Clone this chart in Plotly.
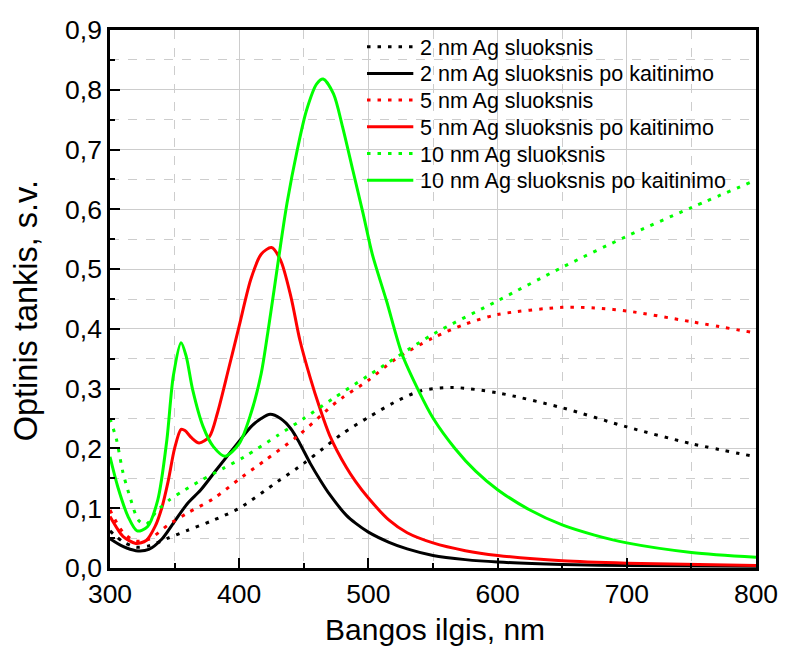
import plotly.graph_objects as go

# Absorbance spectra of Ag layers (as-deposited and after annealing)

# 2 nm Ag, as deposited
wl_2nm = [300, 310, 320, 330, 345, 360, 380, 400, 430, 450, 465, 480, 500, 520, 540, 565, 600, 650, 700, 750, 800]
od_2nm = [0.062, 0.044, 0.035, 0.037, 0.050, 0.063, 0.080, 0.100, 0.145, 0.175, 0.200, 0.225, 0.252, 0.277, 0.296, 0.302, 0.293, 0.268, 0.236, 0.208, 0.186]

# 2 nm Ag, annealed
wl_2nm_ann = [300, 310, 320, 330, 340, 350, 360, 370, 383, 400, 409, 417, 424, 432, 440, 447, 455, 463, 470, 483, 490, 500, 516, 530, 550, 575, 600, 650, 700, 800]
od_2nm_ann = [0.049, 0.036, 0.029, 0.031, 0.048, 0.078, 0.108, 0.130, 0.166, 0.212, 0.236, 0.250, 0.257, 0.250, 0.233, 0.208, 0.175, 0.146, 0.123, 0.088, 0.075, 0.060, 0.043, 0.032, 0.021, 0.014, 0.010, 0.006, 0.004, 0.003]

# 5 nm Ag, as deposited
wl_5nm = [300, 310, 320, 330, 345, 360, 380, 402, 420, 446, 471, 480, 500, 520, 550, 575, 600, 650, 675, 700, 750, 800]
od_5nm = [0.097, 0.060, 0.045, 0.048, 0.072, 0.092, 0.116, 0.152, 0.180, 0.222, 0.270, 0.285, 0.314, 0.348, 0.385, 0.408, 0.424, 0.436, 0.435, 0.430, 0.412, 0.393]

# 5 nm Ag, annealed
wl_5nm_ann = [300, 305, 310, 320, 328, 335, 340, 345, 350, 355, 358, 363, 369, 377, 383, 392, 400, 409, 417, 425, 432, 440, 447, 455, 462, 470, 483, 490, 500, 516, 530, 550, 575, 600, 650, 700, 800]
od_5nm_ann = [0.086, 0.068, 0.053, 0.041, 0.046, 0.070, 0.100, 0.145, 0.200, 0.232, 0.230, 0.218, 0.209, 0.220, 0.258, 0.335, 0.405, 0.483, 0.525, 0.536, 0.515, 0.454, 0.381, 0.318, 0.270, 0.222, 0.168, 0.145, 0.117, 0.080, 0.059, 0.042, 0.029, 0.021, 0.012, 0.008, 0.004]

# 10 nm Ag, as deposited
wl_10nm = [300, 305, 310, 316, 322, 328, 336, 346, 356, 370, 388, 404, 430, 450, 473, 500, 550, 600, 650, 700, 750, 800]
od_10nm = [0.250, 0.215, 0.160, 0.115, 0.080, 0.073, 0.095, 0.114, 0.128, 0.146, 0.167, 0.186, 0.222, 0.250, 0.284, 0.322, 0.391, 0.447, 0.503, 0.555, 0.603, 0.649]

# 10 nm Ag, annealed
wl_10nm_ann = [300, 306, 314, 321, 329, 337, 344, 349, 355, 359, 364, 372, 380, 389, 400, 409, 417, 422, 427, 432, 437, 445, 452, 460, 465, 473, 480, 488, 496, 503, 514, 526, 539, 550, 567, 583, 600, 625, 650, 675, 700, 750, 800]
od_10nm_ann = [0.186, 0.136, 0.086, 0.062, 0.069, 0.114, 0.214, 0.321, 0.377, 0.354, 0.298, 0.237, 0.203, 0.187, 0.208, 0.258, 0.325, 0.392, 0.465, 0.540, 0.610, 0.700, 0.765, 0.810, 0.818, 0.793, 0.738, 0.665, 0.592, 0.525, 0.447, 0.358, 0.296, 0.251, 0.200, 0.162, 0.131, 0.097, 0.072, 0.055, 0.042, 0.026, 0.018]

series = [
    ("2 nm Ag sluoksnis", wl_2nm, od_2nm, "#000000", True),
    ("2 nm Ag sluoksnis po kaitinimo", wl_2nm_ann, od_2nm_ann, "#000000", False),
    ("5 nm Ag sluoksnis", wl_5nm, od_5nm, "#ff0000", True),
    ("5 nm Ag sluoksnis po kaitinimo", wl_5nm_ann, od_5nm_ann, "#ff0000", False),
    ("10 nm Ag sluoksnis", wl_10nm, od_10nm, "#00ff00", True),
    ("10 nm Ag sluoksnis po kaitinimo", wl_10nm_ann, od_10nm_ann, "#00ff00", False),
]

DOT = "3.5px,7px"
LINE_W = 3

fig = go.Figure()
for name, x, y, color, dotted in series:
    fig.add_trace(go.Scatter(
        x=x, y=y, name=name, mode="lines", showlegend=False,
        line=dict(color=color, width=LINE_W, shape="spline", smoothing=0.8,
                  dash=DOT if dotted else "solid"),
    ))

grid_col = "#cdcdcd"
axis_common = dict(
    showline=True, linewidth=2.5, linecolor="black", mirror=True,
    ticks="inside", ticklen=10, tickwidth=2, tickcolor="black",
    showgrid=True, gridcolor=grid_col, gridwidth=1,
    zeroline=False,
    tickfont=dict(size=26.5, color="black"),
)

fig.update_xaxes(range=[300, 800], tick0=300, dtick=100,
                 minor=dict(dtick=50, ticks="inside", ticklen=5, tickwidth=2, tickcolor="black",
                            showgrid=True, gridcolor=grid_col, griddash="dash", gridwidth=1),
                 **axis_common)
fig.update_yaxes(range=[0, 0.9], tick0=0, dtick=0.1, tickformat=".1f",
                 minor=dict(dtick=0.05, ticks="inside", ticklen=5, tickwidth=2, tickcolor="black",
                            showgrid=True, gridcolor=grid_col, griddash="dash", gridwidth=1),
                 **axis_common)

# plot-area geometry in pixels, used to place the legend block
PL, PR, PT, PB = 110, 766, 30, 568


def px_x(px):
    return (px - PL) / (PR - PL)


def px_y(py):
    return (PB - py) / (PB - PT)


# legend: sample line + label per series
for i, (name, _, _, color, dotted) in enumerate(series):
    row_y = 46.7 + 26.7 * i
    fig.add_shape(type="line", xref="paper", yref="paper",
                  x0=px_x(371), x1=px_x(418), y0=px_y(row_y), y1=px_y(row_y),
                  line=dict(color=color, width=LINE_W, dash=DOT if dotted else "solid"))
    fig.add_annotation(text=name, xref="paper", yref="paper",
                       x=px_x(423), y=px_y(row_y + 1), xanchor="left", yanchor="middle",
                       showarrow=False, font=dict(size=21.5, color="black"))

fig.add_annotation(text="Bangos ilgis, nm", xref="paper", yref="paper",
                   x=px_x(440.5), y=px_y(629), xanchor="center", yanchor="middle",
                   showarrow=False, font=dict(size=30, color="black"))
fig.add_annotation(text="Optinis tankis, s.v.", xref="paper", yref="paper",
                   x=px_x(25), y=px_y(311), xanchor="center", yanchor="middle", textangle=-90,
                   showarrow=False, font=dict(size=32.5, color="black"))

fig.update_layout(
    width=790, height=646,
    margin=dict(l=PL, r=790 - PR, t=PT, b=646 - PB),
    plot_bgcolor="white", paper_bgcolor="white",
    separators=", ",
    font=dict(family="Liberation Sans, Arial, sans-serif", color="black"),
    showlegend=False,
)

fig.write_html("out.html")
